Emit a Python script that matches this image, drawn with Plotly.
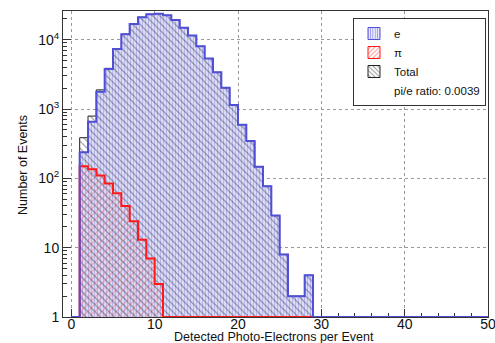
import plotly.graph_objects as go

# Detected photo-electron spectra, unit-width bins starting at 1 p.e.
e_first_bin = 1
e_counts = [237, 656, 1778, 3777, 7345, 11970, 16860, 21050, 23270, 23730,
            22490, 19240, 14900, 11500, 8030, 5355, 3386, 2023, 1142, 593,
            345, 147, 77, 29, 8, 2, 2, 4]
pi_first_bin = 1
pi_counts = [149, 135, 110, 84, 61, 40, 24, 13, 7, 3, 1]
hist_lo, hist_hi = 0, 50
ratio_text = "pi/e ratio: 0.0039"

x_ticks = [0, 10, 20, 30, 40, 50]
y_ticks = [1, 10, 100, 1000, 10000]
y_tick_text = ["1", "10", "10<sup>2</sup>", "10<sup>3</sup>", "10<sup>4</sup>"]

FONT = "Liberation Sans, Arial, Helvetica, sans-serif"
BLUE = "#4f4fd8"
RED = "#ff1a1a"

# total = e + pi, bin by bin
n_tot = max(e_first_bin + len(e_counts), pi_first_bin + len(pi_counts))
total = [0] * n_tot
for i, v in enumerate(e_counts):
    total[e_first_bin + i] += v
for i, v in enumerate(pi_counts):
    total[pi_first_bin + i] += v
tot_first = min(e_first_bin, pi_first_bin)
tot_counts = total[tot_first:]


def centers(first, counts):
    return [first + i + 0.5 for i in range(len(counts))]


def step_path(first, counts, start, end, floor=1):
    """Histogram outline from start to end; empty bins sit on the axis floor."""
    last = first + len(counts)
    xs = [start, first] + list(range(first + 1, last + 1)) + [end]
    ys = [floor] + list(counts) + [floor, floor]
    return xs, ys


fig = go.Figure()

# filled bins
fig.add_trace(go.Bar(
    x=centers(e_first_bin, e_counts), y=e_counts, width=1, showlegend=False,
    marker=dict(color="#d4d4f5", line=dict(width=0),
                pattern=dict(shape="|", fgcolor="#9292e8", bgcolor="#dcdcf7",
                             size=3, solidity=0.35)),
))
fig.add_trace(go.Bar(
    x=centers(pi_first_bin, pi_counts), y=pi_counts, width=1, showlegend=False,
    marker=dict(color="rgba(0,0,0,0)", line=dict(width=0),
                pattern=dict(shape="/", fgcolor="#ff6a6a", bgcolor="rgba(0,0,0,0)",
                             size=5, solidity=0.25)),
))
fig.add_trace(go.Bar(
    x=centers(tot_first, tot_counts), y=tot_counts, width=1, showlegend=False,
    marker=dict(color="rgba(0,0,0,0)", line=dict(width=0),
                pattern=dict(shape="\\", fgcolor="#3a3a4a", bgcolor="rgba(0,0,0,0)",
                             size=5, solidity=0.22)),
))

# outlines: total, then pi, then e on top
tx, ty = step_path(tot_first, tot_counts, tot_first, tot_first + len(tot_counts))
fig.add_trace(go.Scatter(x=tx, y=ty, mode="lines", line=dict(color="#222", width=1, shape="hv"),
                         showlegend=False, hoverinfo="skip"))
px_, py_ = step_path(pi_first_bin, pi_counts, pi_first_bin, e_first_bin + len(e_counts))
fig.add_trace(go.Scatter(x=px_, y=py_, mode="lines", line=dict(color=RED, width=2, shape="hv"),
                         showlegend=False, hoverinfo="skip"))
ex, ey = step_path(e_first_bin, e_counts, hist_lo, hist_hi)
fig.add_trace(go.Scatter(x=ex, y=ey, mode="lines", line=dict(color=BLUE, width=2, shape="hv"),
                         showlegend=False, hoverinfo="skip"))

# legend entries
fig.add_trace(go.Bar(x=[None], y=[None], name="e",
                     marker=dict(color="rgba(0,0,0,0)", line=dict(color=BLUE, width=1),
                                 pattern=dict(shape="|", fgcolor=BLUE, bgcolor="#e6e6fa",
                                              size=3, solidity=0.35))))
fig.add_trace(go.Bar(x=[None], y=[None], name="π",
                     marker=dict(color="rgba(0,0,0,0)", line=dict(color=RED, width=1),
                                 pattern=dict(shape="/", fgcolor=RED, bgcolor="white",
                                              size=4, solidity=0.3))))
fig.add_trace(go.Bar(x=[None], y=[None], name="Total",
                     marker=dict(color="rgba(0,0,0,0)", line=dict(color="#222", width=1),
                                 pattern=dict(shape="\\", fgcolor="#222", bgcolor="white",
                                              size=4, solidity=0.3))))
fig.add_trace(go.Scatter(x=[None], y=[None], mode="markers", name=ratio_text,
                         marker=dict(color="rgba(0,0,0,0)", size=1)))

axis_common = dict(
    showline=True, linecolor="#333", linewidth=1, mirror=True, layer="below traces",
    ticks="inside", tickcolor="#333", ticklen=8, tickwidth=1,
    showgrid=True, gridcolor="#9a9a9a", griddash="dot", gridwidth=1,
    zeroline=False, tickfont=dict(family=FONT, size=14, color="#111"),
    ticklabeloverflow="allow",
)

fig.update_layout(
    width=495, height=343,
    margin=dict(l=63, r=7, t=11, b=26, autoexpand=False),
    paper_bgcolor="white", plot_bgcolor="white",
    barmode="overlay", bargap=0,
    font=dict(family=FONT, size=12, color="#111"),
    xaxis=dict(range=[-1, 50], tickvals=x_ticks, ticklabelstandoff=-6,
               minor=dict(ticks="inside", ticklen=4, dtick=2, tick0=0, tickcolor="#333", showgrid=False),
               **axis_common),
    yaxis=dict(type="log", range=[0, 4.414], tickvals=y_ticks, ticktext=y_tick_text,
               minor=dict(ticks="inside", ticklen=4, tickcolor="#333", showgrid=False,
                          tickvals=[m * 10 ** d for d in range(5) for m in range(2, 10)]),
               **axis_common),
    legend=dict(x=(419.5 - 63) / 425, y=1 - (18 - 11) / 306, xref="paper", yref="paper",
                xanchor="center", yanchor="top",
                bgcolor="white", bordercolor="#333", borderwidth=1,
                font=dict(family=FONT, size=11.5, color="#111"),
                tracegroupgap=0, itemwidth=30),
    annotations=[
        dict(text="Detected Photo-Electrons per Event", xref="paper", yref="paper",
             x=(274 - 63) / 425, y=-(337 - 317) / 306, xanchor="center", yanchor="middle",
             showarrow=False, font=dict(family=FONT, size=12.5, color="#111")),
        dict(text="Number of Events", xref="paper", yref="paper", textangle=-90,
             x=(23 - 63) / 425, y=(317 - 165) / 306, xanchor="center", yanchor="middle",
             showarrow=False, font=dict(family=FONT, size=12.5, color="#111")),
    ],
)

fig.write_html("out.html")
